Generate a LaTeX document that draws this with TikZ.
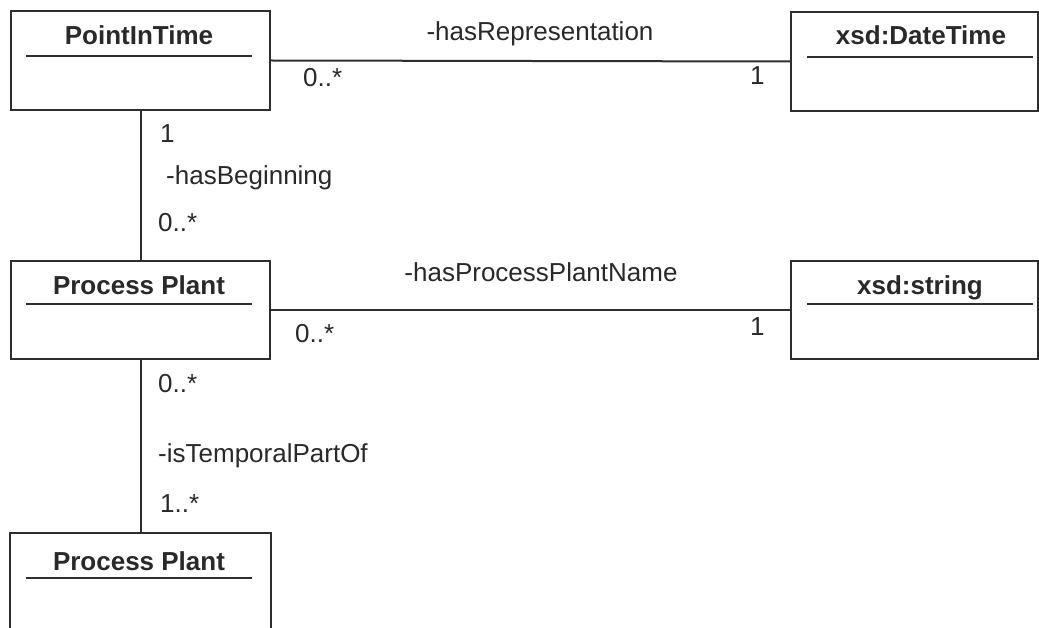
\documentclass[tikz,border=0pt]{standalone}
\usepackage{fontspec}
\setmainfont{Liberation Sans}
\definecolor{linec}{gray}{0.18}
\definecolor{textc}{gray}{0.16}
\begin{document}
\begin{tikzpicture}[x=1pt,y=-1pt,
  cls/.style={draw=linec, line width=2pt, anchor=north west, inner sep=0pt, minimum width=259pt, minimum height=99pt},
  rcls/.style={cls, minimum width=247pt},
  ttl/.style={font=\fontsize{26}{30}\selectfont\bfseries, text=textc, anchor=base, inner sep=0pt},
  lbl/.style={font=\fontsize{26}{30}\selectfont, text=textc, anchor=base west, inner sep=0pt},
  clbl/.style={lbl, anchor=base},
  ln/.style={draw=linec, line width=2pt},
  uln/.style={draw=linec, line width=2pt}]
\useasboundingbox (0,0) rectangle (1039,628);
\fill[white] (0,0) rectangle (1039,628);

% classes
\node[cls] (pit) at (10,10) {};
\node[rcls] (dt) at (790,11) {};
\node[cls, minimum height=98pt] (pp1) at (10,260) {};
\node[rcls, minimum height=98pt] (str) at (790,260) {};
\node[cls, draw=none, minimum height=95pt] (pp2) at (10,533) {};
\draw[ln] (pp2.south west) -- (pp2.north west) -- (pp2.north east) -- (pp2.south east);

% titles
\node[ttl] (pitT) at (139,45) {PointInTime};
\node[ttl] (dtT) at (921,45) {xsd:DateTime};
\node[ttl] (pp1T) at (139,295) {Process Plant};
\node[ttl] (strT) at (920,295) {xsd:string};
\node[ttl] (pp2T) at (139,570) {Process Plant};

% underlines
\draw[uln] (26,56) -- (252,56);
\draw[uln] (807,57) -- (1033,57);
\draw[uln] (26,304) -- (252,304);
\draw[uln] (807,304) -- (1033,304);
\draw[uln] (26,578) -- (252,578);

% connectors
\draw[ln] (pit.east) -- (dt.west);
\draw[ln] (pp1.east) -- (str.west);
\draw[ln] (pit.south) -- (pp1.north);
\draw[ln] (pp1.south) -- (pp2.north);

% labels
\node[clbl] (l1) at (540,41) {-hasRepresentation};
\node[lbl] (l2) at (303,87) {0..*};
\node[lbl] (l3) at (750,85) {1};
\node[clbl] (l4) at (541,282) {-hasProcessPlantName};
\node[lbl] (l5) at (295,342) {0..*};
\node[lbl] (l6) at (750,335) {1};
\node[lbl] (l7) at (160,143) {1};
\node[lbl] (l8) at (166,185) {-hasBeginning};
\node[lbl] (l9) at (158,232) {0..*};
\node[lbl] (l10) at (158,392) {0..*};
\node[lbl] (l11) at (158,462) {-isTemporalPartOf};
\node[lbl] (l12) at (160,512) {1..*};
\end{tikzpicture}
\end{document}
